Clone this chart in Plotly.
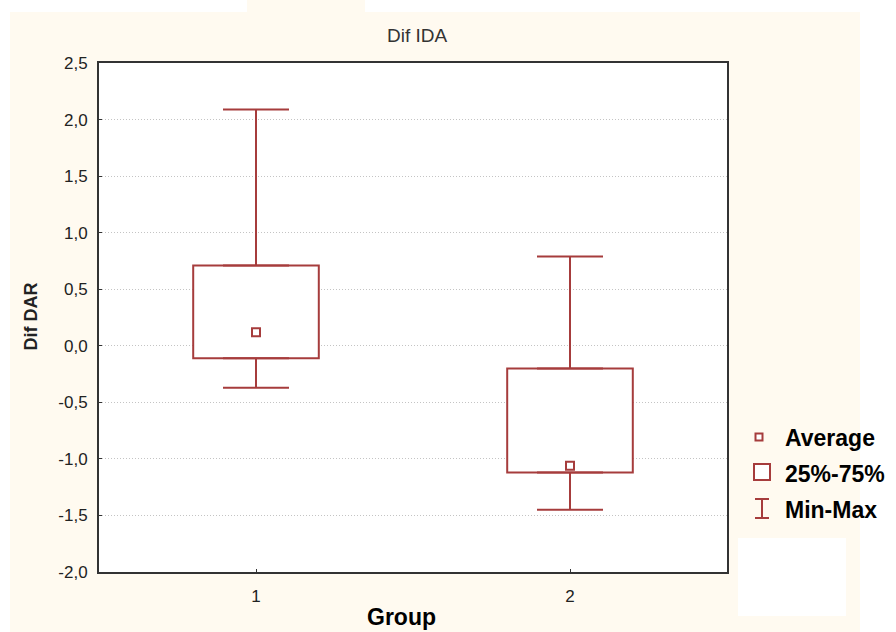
import plotly.graph_objects as go

# ---- data ----
groups = [1, 2]
max_vals = [2.09, 0.79]
q3_vals = [0.71, -0.20]
q1_vals = [-0.11, -1.12]
min_vals = [-0.37, -1.45]
mean_vals = [0.12, -1.06]
y_ticks = [-2.0, -1.5, -1.0, -0.5, 0.0, 0.5, 1.0, 1.5, 2.0, 2.5]
legend_labels = ["Average", "25%-75%", "Min-Max"]

RED = "#a63c3c"
CREAM = "#fffaf0"
FONT = "Liberation Sans, Arial, sans-serif"

W, H = 896, 632
L, R, T, B = 99, 727, 63, 572


def px(x):
    return (x - L) / (R - L)


def py(y):
    return (B - y) / (B - T)


fig = go.Figure()

# IQR boxes
fig.add_trace(go.Bar(
    x=groups,
    base=q1_vals,
    y=[a - b for a, b in zip(q3_vals, q1_vals)],
    width=0.4,
    marker=dict(color="white", line=dict(color=RED, width=2)),
    showlegend=False, hoverinfo="skip",
))

# upper whiskers
fig.add_trace(go.Scatter(
    x=groups, y=q3_vals, mode="markers",
    marker=dict(size=1, opacity=0),
    error_y=dict(type="data", symmetric=False,
                 array=[a - b for a, b in zip(max_vals, q3_vals)],
                 arrayminus=[0, 0], width=33, thickness=2, color=RED),
    showlegend=False, hoverinfo="skip",
))
# lower whiskers
fig.add_trace(go.Scatter(
    x=groups, y=q1_vals, mode="markers",
    marker=dict(size=1, opacity=0),
    error_y=dict(type="data", symmetric=False,
                 array=[0, 0],
                 arrayminus=[a - b for a, b in zip(q1_vals, min_vals)],
                 width=33, thickness=2, color=RED),
    showlegend=False, hoverinfo="skip",
))
# means
fig.add_trace(go.Scatter(
    x=groups, y=mean_vals, mode="markers",
    marker=dict(symbol="square", size=8, color="white",
                line=dict(color=RED, width=2)),
    showlegend=False,
))

shapes = []
# white margins around cream background
for (x0, y0, x1, y1) in [(0, 0, 10, H), (0, 0, 247, 12), (365, 0, W, 12),
                         (860, 0, W, H), (738, 538, 846, 616)]:
    shapes.append(dict(type="rect", xref="paper", yref="paper",
                       x0=px(x0), x1=px(x1), y0=py(y1), y1=py(y0),
                       fillcolor="white", line=dict(width=0), layer="above"))

# legend symbols
shapes.append(dict(type="rect", xref="paper", yref="paper",
                   x0=px(755.5), x1=px(762.5), y0=py(440.5), y1=py(433.5),
                   fillcolor="white", line=dict(color=RED, width=2)))
shapes.append(dict(type="rect", xref="paper", yref="paper",
                   x0=px(754), x1=px(770), y0=py(480), y1=py(464),
                   fillcolor="white", line=dict(color=RED, width=2)))
shapes.append(dict(type="line", xref="paper", yref="paper",
                   x0=px(762), x1=px(762), y0=py(518), y1=py(499),
                   line=dict(color=RED, width=2)))
for yy in (499, 518):
    shapes.append(dict(type="line", xref="paper", yref="paper",
                       x0=px(755), x1=px(769), y0=py(yy), y1=py(yy),
                       line=dict(color=RED, width=2)))

annotations = []
for lab, yy in zip(legend_labels, [438, 474, 510]):
    annotations.append(dict(text=f"<b>{lab}</b>", xref="paper", yref="paper",
                            x=px(783), y=py(yy), xanchor="left", yanchor="middle",
                            showarrow=False,
                            font=dict(family=FONT, size=23, color="black")))
annotations.append(dict(text="<b>Group</b>", xref="paper", yref="paper",
                        x=px(401), y=py(617), xanchor="center", yanchor="middle",
                        showarrow=False,
                        font=dict(family=FONT, size=23, color="black")))
annotations.append(dict(text="<b>Dif DAR</b>", xref="paper", yref="paper",
                        x=px(30.5), y=py(317), xanchor="center", yanchor="middle",
                        textangle=-90, showarrow=False,
                        font=dict(family=FONT, size=18, color="#222")))
annotations.append(dict(text="Dif IDA", xref="paper", yref="paper",
                        x=px(417), y=py(36), xanchor="center", yanchor="middle",
                        showarrow=False,
                        font=dict(family=FONT, size=19, color="#333")))

y_ticktext = [f"{v:.1f}".replace(".", ",") for v in y_ticks]

fig.update_layout(
    width=W, height=H, autosize=False,
    margin=dict(l=L, r=W - R, t=T, b=H - B, pad=0),
    paper_bgcolor=CREAM, plot_bgcolor="white",
    showlegend=False,
    shapes=shapes, annotations=annotations,
    font=dict(family=FONT, size=17, color="#333"),
    xaxis=dict(range=[0.5, 2.5], tickvals=groups, ticktext=[str(g) for g in groups],
               ticks="inside", ticklen=3, tickcolor="#333", ticklabelstandoff=8,
               showgrid=False, zeroline=False,
               showline=True, linecolor="#333", linewidth=2, mirror=True,
               tickfont=dict(family=FONT, size=17, color="#222")),
    yaxis=dict(range=[-2.0, 2.5], tickvals=y_ticks, ticktext=y_ticktext,
               ticks="inside", ticklen=3, tickcolor="#333", ticklabelstandoff=6,
               showgrid=True, gridcolor="#c4c4c4", griddash="1px,2px", gridwidth=1,
               zeroline=False,
               showline=True, linecolor="#333", linewidth=2, mirror=True,
               tickfont=dict(family=FONT, size=17, color="#222")),
)

fig.write_html("out.html")
